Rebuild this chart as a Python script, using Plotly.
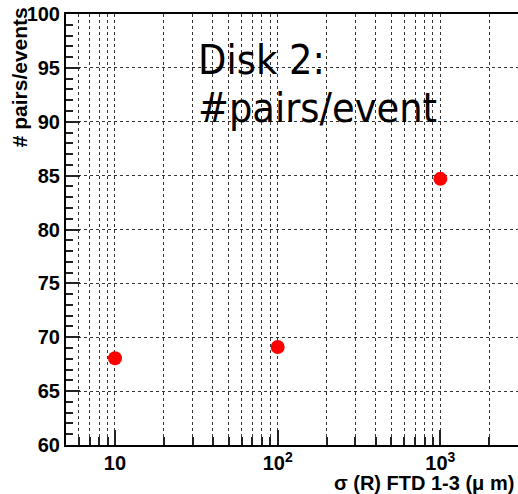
import math
import plotly.graph_objects as go

# Pair counts per event versus the FTD 1-3 point resolution
sigma_r = [10, 100, 1000]
pairs_per_event = [68.05, 69.1, 84.7]

x_range = [5, 3000]
y_range = [60, 100]
x_major = [10, 100, 1000]
x_major_text = ["10", "10<sup>2</sup>", "10<sup>3</sup>"]
x_minor = [m * d for d in (1, 10, 100, 1000) for m in range(2, 10) if 5 <= m * d <= 3000 and m * d not in x_major]

label_lines = ["Disk 2:", "#pairs/event"]

fig = go.Figure()
fig.add_trace(go.Scatter(
    x=sigma_r, y=pairs_per_event, mode="markers",
    marker=dict(color="#ff0000", size=14, line=dict(width=0)),
    showlegend=False,
))

grid = dict(showgrid=True, gridcolor="#333333", griddash="dot", gridwidth=1)
tick_font = dict(family="Liberation Sans", size=20, color="black", weight="bold")

fig.update_xaxes(
    type="log", range=[math.log10(x_range[0]), math.log10(x_range[1])],
    tickmode="array", tickvals=x_major, ticktext=x_major_text,
    ticks="inside", ticklen=15, tickwidth=1.5, tickcolor="#222",
    tickfont=tick_font, ticklabelstandoff=-1,
    showline=True, linecolor="black", linewidth=2, mirror=True,
    zeroline=False,
    minor=dict(tickmode="array", tickvals=x_minor, ticks="inside", ticklen=8,
               tickwidth=1.5, tickcolor="#222", **grid),
    **grid,
)
fig.update_yaxes(
    range=y_range, tickmode="linear", tick0=60, dtick=5,
    ticks="inside", ticklen=14, tickwidth=1.5, tickcolor="#222",
    tickfont=tick_font,
    showline=True, linecolor="black", linewidth=2, mirror=False,
    zeroline=False,
    minor=dict(dtick=1, ticks="inside", ticklen=7, tickwidth=1.5, tickcolor="#222", showgrid=False),
    **grid,
)

fig.add_annotation(
    text="# pairs/events", textangle=-90, showarrow=False,
    xref="paper", yref="paper", x=-0.101, y=1.021, xanchor="center", yanchor="top",
    font=dict(family="Liberation Sans", size=21, color="black", weight="bold"),
)
fig.add_annotation(
    text="σ (R) FTD 1-3 (μ m)", showarrow=False,
    xref="paper", yref="paper", x=0.996, y=-0.089, xanchor="right", yanchor="middle",
    font=dict(family="Liberation Sans", size=20, color="black", weight="bold"),
)
for i, line in enumerate(label_lines):
    fig.add_annotation(
        text=line, showarrow=False,
        xref="paper", yref="paper", x=0.287, y=1 - (60 + 48 * i - 14) / 431,
        xanchor="left", yanchor="middle",
        font=dict(family="DejaVu Sans Condensed", size=41, color="black"),
    )

fig.update_layout(
    width=518, height=494,
    margin=dict(l=66, r=0, t=14, b=49),
    paper_bgcolor="white", plot_bgcolor="white",
)

fig.write_html("out.html")
